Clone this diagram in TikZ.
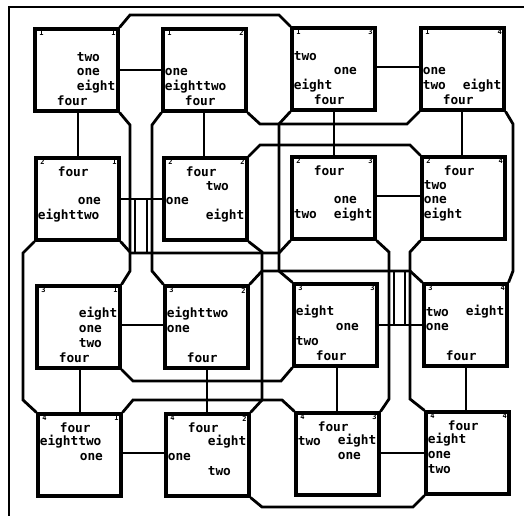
\documentclass[tikz,border=0pt]{standalone}
\usepackage{fontspec}
\newfontfamily\labfont{DejaVu Sans Mono}
\begin{document}
\begin{tikzpicture}[x=1pt,y=-1pt,line width=2.8pt,line join=miter,
  box/.style={draw,minimum width=83pt,minimum height=82pt,inner sep=0pt,line width=3.2pt},
  lab/.style={anchor=west,inner sep=0pt,font=\labfont\bfseries\fontsize{12.8}{12.8}\selectfont},
  dig/.style={inner sep=0pt,font=\labfont\bfseries\fontsize{7}{7}\selectfont},
  wire/.style={line width=2.8pt}]
\useasboundingbox (0,0) rectangle (524,516);
% frame
\draw[wire] (524,7) -- (9,7) -- (9,516);
% boxes
\node[box] (b11) at (76.5,70) {};
\node[box] (b12) at (204.5,70) {};
\node[box] (b13) at (333.5,69) {};
\node[box] (b14) at (462.5,69) {};
\node[box] (b21) at (77.5,199) {};
\node[box] (b22) at (205.5,199) {};
\node[box] (b23) at (333.5,198) {};
\node[box] (b24) at (463.5,198) {};
\node[box] (b31) at (78.5,327) {};
\node[box] (b32) at (206.5,327) {};
\node[box] (b33) at (335.5,325) {};
\node[box] (b34) at (465.5,325) {};
\node[box] (b41) at (79.5,455) {};
\node[box] (b42) at (207.5,455) {};
\node[box] (b43) at (337.5,454) {};
\node[box] (b44) at (467.5,453) {};
% labels
\newcommand\lbl[4]{\node[lab] (#1#4) at ([shift={(#2,#3)}]#1.north west) {#4};}
\def\cL{2}\def\cF{22}\def\cR{42}
\def\rA{15}\def\rB{29.6}\def\rC{44.2}\def\rD{58.8}\def\rE{73.4}
\lbl{b11}{\cR}{\rB}{two}\lbl{b11}{\cR}{\rC}{one}\lbl{b11}{\cR}{\rD}{eight}\lbl{b11}{\cF}{\rE}{four}
\lbl{b12}{\cL}{\rC}{one}\lbl{b12}{\cL}{\rD}{eighttwo}\lbl{b12}{\cF}{\rE}{four}
\lbl{b13}{\cL}{\rB}{two}\lbl{b13}{\cR}{\rC}{one}\lbl{b13}{\cL}{\rD}{eight}\lbl{b13}{\cF}{\rE}{four}
\lbl{b14}{\cL}{\rC}{one}\lbl{b14}{\cL}{\rD}{two}\lbl{b14}{\cR}{\rD}{eight}\lbl{b14}{\cF}{\rE}{four}
\lbl{b21}{\cF}{\rA}{four}\lbl{b21}{\cR}{\rC}{one}\lbl{b21}{\cL}{\rD}{eighttwo}
\lbl{b22}{\cF}{\rA}{four}\lbl{b22}{\cR}{\rB}{two}\lbl{b22}{\cL}{\rC}{one}\lbl{b22}{\cR}{\rD}{eight}
\lbl{b23}{\cF}{\rA}{four}\lbl{b23}{\cR}{\rC}{one}\lbl{b23}{\cL}{\rD}{two}\lbl{b23}{\cR}{\rD}{eight}
\lbl{b24}{\cF}{\rA}{four}\lbl{b24}{\cL}{\rB}{two}\lbl{b24}{\cL}{\rC}{one}\lbl{b24}{\cL}{\rD}{eight}
\lbl{b31}{\cR}{\rB}{eight}\lbl{b31}{\cR}{\rC}{one}\lbl{b31}{\cR}{\rD}{two}\lbl{b31}{\cF}{\rE}{four}
\lbl{b32}{\cL}{\rB}{eighttwo}\lbl{b32}{\cL}{\rC}{one}\lbl{b32}{\cF}{\rE}{four}
\lbl{b33}{\cL}{\rB}{eight}\lbl{b33}{\cR}{\rC}{one}\lbl{b33}{\cL}{\rD}{two}\lbl{b33}{\cF}{\rE}{four}
\lbl{b34}{\cL}{\rB}{two}\lbl{b34}{\cR}{\rB}{eight}\lbl{b34}{\cL}{\rC}{one}\lbl{b34}{\cF}{\rE}{four}
\lbl{b41}{\cF}{\rA}{four}\lbl{b41}{\cL}{\rB}{eighttwo}\lbl{b41}{\cR}{\rC}{one}
\lbl{b42}{\cF}{\rA}{four}\lbl{b42}{\cR}{\rB}{eight}\lbl{b42}{\cL}{\rC}{one}\lbl{b42}{\cR}{\rD}{two}
\lbl{b43}{\cF}{\rA}{four}\lbl{b43}{\cL}{\rB}{two}\lbl{b43}{\cR}{\rB}{eight}\lbl{b43}{\cR}{\rC}{one}
\lbl{b44}{\cF}{\rA}{four}\lbl{b44}{\cL}{\rB}{eight}\lbl{b44}{\cL}{\rC}{one}\lbl{b44}{\cL}{\rD}{two}
% corner digits
\newcommand\dg[3]{\node[dig] (#1d#2) at ([shift={(8,6)}]#1.north west) {#2};
  \node[dig] (#1e#3) at ([shift={(-6,6)}]#1.north east) {#3};}
\dg{b11}{1}{1}\dg{b12}{1}{2}\dg{b13}{1}{3}\dg{b14}{1}{4}
\dg{b21}{2}{1}\dg{b22}{2}{2}\dg{b23}{2}{3}\dg{b24}{2}{4}
\dg{b31}{3}{1}\dg{b32}{3}{2}\dg{b33}{3}{3}\dg{b34}{3}{4}
\dg{b41}{4}{1}\dg{b42}{4}{2}\dg{b43}{4}{3}\dg{b44}{4}{4}
% short edges
\draw[wire] (b11.east |- 0,70) -- (b12.west |- 0,70);
\draw[wire] (b13.east |- 0,67) -- (b14.west |- 0,67);
\draw[wire] (b21.east |- 0,199) -- (b22.west |- 0,199);
\draw[wire] (b23.east |- 0,196) -- (b24.west |- 0,196);
\draw[wire] (b31.east |- 0,325) -- (b32.west |- 0,325);
\draw[wire] (b33.east |- 0,325) -- (b34.west |- 0,325);
\draw[wire] (b41.east |- 0,453) -- (b42.west |- 0,453);
\draw[wire] (b43.east |- 0,453) -- (b44.west |- 0,453);
\draw[wire] (78,0 |- b11.south) -- (78,0 |- b21.north);
\draw[wire] (204,0 |- b12.south) -- (204,0 |- b22.north);
\draw[wire] (334,0 |- b13.south) -- (334,0 |- b23.north);
\draw[wire] (462,0 |- b14.south) -- (462,0 |- b24.north);
\draw[wire] (80,0 |- b31.south) -- (80,0 |- b41.north);
\draw[wire] (207,0 |- b32.south) -- (207,0 |- b42.north);
\draw[wire] (337,0 |- b33.south) -- (337,0 |- b43.north);
\draw[wire] (466,0 |- b34.south) -- (466,0 |- b44.north);
% channel lines
\draw[wire] (b11.north east) -- (130,15) -- (279,15) -- (b13.north west);
\draw[wire] (b14.south east) -- (513,124) -- (513,271) -- (b34.north east);
\draw[wire] (b21.south west) -- (23,253) -- (23,400) -- (b41.north west);
\draw[wire] (b42.south east) -- (262,507) -- (413,507) -- (b44.south west);
\draw[wire] (b12.south east) -- (260,124) -- (407,124) -- (b14.south west);
\draw[wire] (b13.south west) -- (279,124) -- (279,271) -- (b33.north west);
\draw[wire] (b22.north east) -- (260,145) -- (410,145) -- (b24.north west);
\draw[wire] (b11.south east) -- (130,125) -- (130,271) -- (b31.north east);
\draw[wire] (b12.south west) -- (152,125) -- (152,271) -- (b32.north west);
\draw[wire] (b21.south east) -- (130,252);
\draw[wire] (130,253) -- (279,253) -- (b23.south west);
\draw[wire] (b22.south east) -- (262,252) -- (262,400);
\draw[wire] (b32.north east) -- (262,271) -- (410,271);
\draw[wire] (b23.south east) -- (389,252) -- (389,399) -- (b43.north east);
\draw[wire] (b24.south west) -- (410,252) -- (410,399) -- (b44.north west);
\draw[wire] (b34.north west) -- (410,271);
\draw[wire] (b31.south east) -- (133,381) -- (281,381) -- (b33.south west);
\draw[wire] (b41.north east) -- (133,400) -- (282,400) -- (b43.north west);
\draw[wire] (b42.north east) -- (262,400);
% doubled channel lines
\draw[wire] (135,199) -- (135,253);
\draw[wire] (147,199) -- (147,253);
\draw[wire] (394,271) -- (394,325);
\draw[wire] (405,271) -- (405,325);
\end{tikzpicture}
\end{document}
